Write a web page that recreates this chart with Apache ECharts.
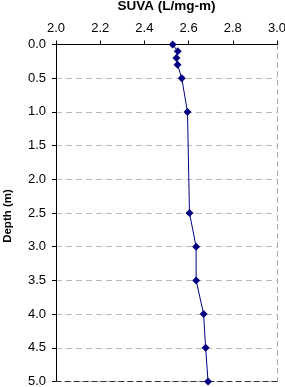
<!DOCTYPE html>
<html><head><meta charset="utf-8">
<script src="https://cdn.jsdelivr.net/npm/echarts@6/dist/echarts.min.js"></script>
<style>html,body{margin:0;padding:0;background:#fff}#c{width:285px;height:387px}</style>
</head><body><div id="c"></div>
<script>
var depths = [0.0, 0.1, 0.2, 0.3, 0.5, 1.0, 2.5, 3.0, 3.5, 4.0, 4.5, 5.0];
var suva   = [2.528, 2.551, 2.545, 2.550, 2.569, 2.595, 2.604, 2.634, 2.634, 2.668, 2.677, 2.688];
var xTitle = 'SUVA (L/mg-m)';
var yTitle = 'Depth (m)';

var chart = echarts.init(document.getElementById('c'));
var font = 'Liberation Sans, Arial, sans-serif';
chart.setOption({
  animation: false,
  grid: {left: 56, right: 8, top: 44.5, bottom: 5.5, containLabel: false, outerBoundsMode: 'none'},
  xAxis: [{
    type: 'value', position: 'top', min: 2, max: 3, interval: 0.2,
    name: xTitle, nameLocation: 'middle', nameGap: 31, nameMoveOverlap: false,
    nameTextStyle: {fontFamily: font, fontWeight: 'bold', fontSize: 13.5, color: '#000'},
    axisLine: {show: true, onZero: false, lineStyle: {color: '#000', width: 1}},
    axisTick: {show: true, inside: false, length: 4, lineStyle: {color: '#000'}},
    axisLabel: {fontFamily: font, fontSize: 13, color: '#000', margin: 10,
      formatter: function (v) { return v.toFixed(1); }},
    splitLine: {show: false}
  }, {
    type: 'value', position: 'bottom', min: 2, max: 3,
    axisLine: {show: true, onZero: false, lineStyle: {color: '#333', type: [5, 4], width: 1}},
    axisTick: {show: false}, axisLabel: {show: false}, splitLine: {show: false}
  }],
  yAxis: [{
    type: 'value', inverse: true, min: 0, max: 5, interval: 0.5,
    name: yTitle, nameLocation: 'middle', nameGap: 42, nameRotate: 90, nameMoveOverlap: false,
    nameTextStyle: {fontFamily: font, fontWeight: 'bold', fontSize: 11.5, color: '#000', padding: [0, 6, 0, 0]},
    axisLine: {show: true, onZero: false, lineStyle: {color: '#000', width: 1}},
    axisTick: {show: true, inside: false, length: 4, lineStyle: {color: '#000'}},
    axisLabel: {fontFamily: font, fontSize: 13, color: '#000', margin: 10,
      formatter: function (v) { return v.toFixed(1); }},
    splitLine: {show: true, lineStyle: {color: '#bbb', type: [6, 4], width: 1}}
  }, {
    type: 'value', position: 'right', inverse: true, min: 0, max: 5,
    axisLine: {show: true, onZero: false, lineStyle: {color: '#aaa', type: [5, 4], width: 1}},
    axisTick: {show: false}, axisLabel: {show: false}, splitLine: {show: false}
  }],
  series: [{
    type: 'line', xAxisIndex: 0, yAxisIndex: 0,
    data: depths.map(function (d, i) { return [suva[i], d]; }),
    symbol: 'diamond', symbolSize: 8,
    lineStyle: {color: '#000080', width: 1},
    itemStyle: {color: '#000080'},
    clip: false
  }]
});
</script></body></html>
